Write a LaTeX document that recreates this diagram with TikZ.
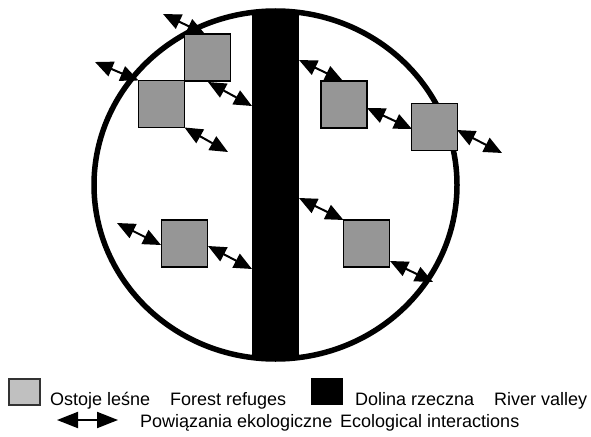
\documentclass[tikz,border=0pt]{standalone}
\usepackage{fontspec}
\setmainfont{Liberation Sans}
\usetikzlibrary{arrows.meta}
\definecolor{refgray}{HTML}{969696}
\definecolor{keygray}{HTML}{C0C0C0}
\begin{document}
\begin{tikzpicture}[x=1pt,y=-1pt,
  refuge/.style={draw=black, line width=1.8pt, fill=refgray, minimum width=46pt,
    minimum height=47pt, inner sep=0pt, outer sep=0pt},
  link/.style={line width=2pt, {Triangle[length=18pt,width=15.5pt]}-{Triangle[length=18pt,width=15.5pt]}},
  keytext/.style={inner sep=0pt, anchor=base west, font=\fontsize{18pt}{21pt}\selectfont}]
\useasboundingbox (0,0) rectangle (591,436);

% landscape outline and river valley
\fill[white] (275.5,185) ellipse [x radius=181.5, y radius=174];
\begin{scope}
  \clip (275.5,185) ellipse [x radius=181.5, y radius=174];
  \fill[black] (252,0) rectangle (299,370);
\end{scope}
\draw[line width=5.5pt] (275.5,185) ellipse [x radius=181.5, y radius=174];
\coordinate (valley) at (275.5,185);

% forest refuges
\node[refuge] (A) at (207.5,57.5) {};
\node[refuge] (B) at (161.5,104) {};
\node[refuge] (C) at (344,104.5) {};
\node[refuge] (D) at (434.5,127) {};
\node[refuge] (E) at (184.5,243.5) {};
\node[refuge] (F) at (366.5,243.5) {};

% free ends of the interaction arrows
\coordinate (a1) at (163,14);   \coordinate (a1e) at (205,34);
\coordinate (a2) at (95,62);
\coordinate (a3) at (208,82);   \coordinate (a3e) at (252,106);
\coordinate (a4) at (228,152);
\coordinate (a5) at (299,60);   \coordinate (a5e) at (343,81);
\coordinate (a6) at (367,108);  \coordinate (a6e) at (412,129);
\coordinate (a7) at (457,130);  \coordinate (a7e) at (502,153);
\coordinate (a8) at (117,223);  \coordinate (a8e) at (161,245);
\coordinate (a9) at (208,246);  \coordinate (a9e) at (252,269);
\coordinate (a10) at (299,198);
\coordinate (a11) at (390,261); \coordinate (a11e) at (433,282);

% ecological interactions
\draw[link] (a1) -- (a1e);
\draw[link] (a2) -- (B.north west);
\draw[link] (a3) -- (a3e);
\draw[link] (B.south east) -- (a4);
\draw[link] (a5) -- (a5e);
\draw[link] (a6) -- (a6e);
\draw[link] (a7) -- (a7e);
\draw[link] (a8) -- (a8e);
\draw[link] (a9) -- (a9e);
\draw[link] (a10) -- (F.north west);
\draw[link] (a11) -- (a11e);

% key
\node[draw=black!80, line width=1.5pt, fill=keygray, minimum width=31pt, minimum height=26pt,
  inner sep=0pt] (keyref) at (24.5,392) {};
\node[keytext] (kref) at (50,405) {Ostoje leśne};
\node[keytext] (kref2) at (170,405) {Forest refuges};
\node[fill=black, minimum width=32pt, minimum height=27pt, inner sep=0pt] (keyval) at (327,391.5) {};
\node[keytext] (kval) at (355,405) {Dolina rzeczna};
\node[keytext] (kval2) at (494,405) {River valley};
\coordinate (kl1) at (57,420);
\coordinate (kl2) at (118,420);
\draw[line width=2pt, {Triangle[length=21pt,width=16pt]}-{Triangle[length=21pt,width=16pt]}] (kl1) -- (kl2);
\node[keytext] (klink) at (140,427) {Powiązania ekologiczne};
\node[keytext] (klink2) at (340,427) {Ecological interactions};
\end{tikzpicture}
\end{document}
